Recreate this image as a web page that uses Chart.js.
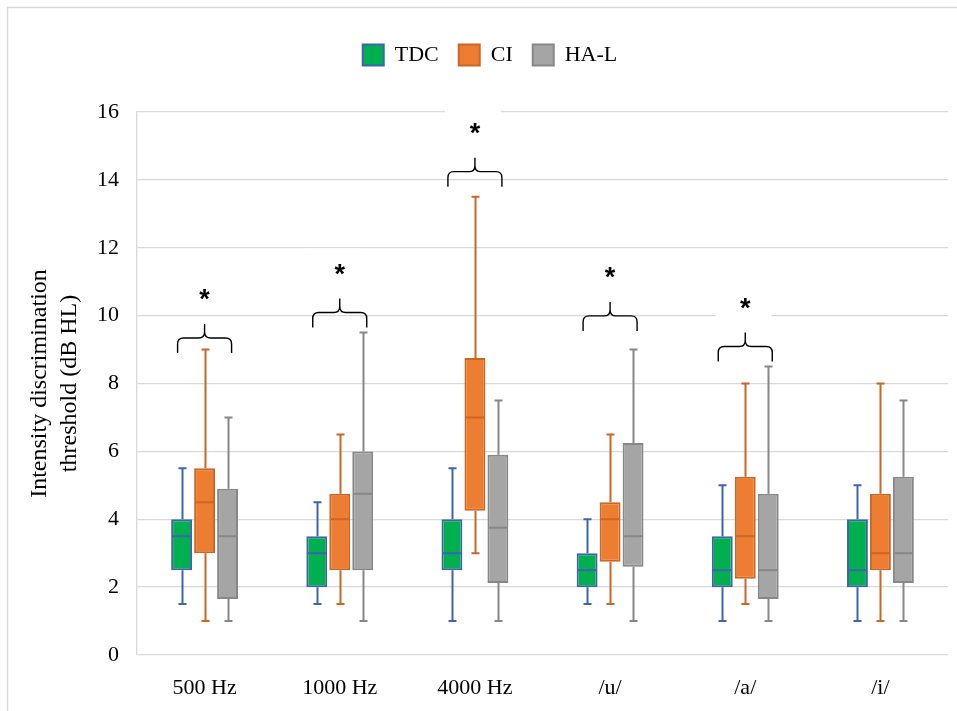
<!DOCTYPE html>
<html>
<head>
<meta charset="utf-8">
<title>Intensity discrimination threshold</title>
<script src="https://cdn.jsdelivr.net/npm/chart.js"></script>
<style>
  html, body { margin: 0; padding: 0; background: #fff; }
  #wrap { width: 957px; height: 711px; position: relative; }
</style>
</head>
<body>
<div id="wrap"><canvas id="chart"></canvas></div>
<script>
// Stimulus conditions on the x axis
const categories = ['500 Hz', '1000 Hz', '4000 Hz', '/u/', '/a/', '/i/'];

// Y axis range and tick step (dB HL)
const yMin = 0;
const yMax = 16;
const yStep = 2;

// TDC: min, lower quartile, median, upper quartile, max
const tdcMin = [1.5, 1.5, 1.0, 1.5, 1.0, 1.0];
const tdcQ1 = [2.5, 2.0, 2.5, 2.0, 2.0, 2.0];
const tdcMedian = [3.5, 3.0, 3.0, 2.5, 2.5, 2.5];
const tdcQ3 = [4.0, 3.5, 4.0, 3.0, 3.5, 4.0];
const tdcMax = [5.5, 4.5, 5.5, 4.0, 5.0, 5.0];

// CI
const ciMin = [1.0, 1.5, 3.0, 1.5, 1.5, 1.0];
const ciQ1 = [3.0, 2.5, 4.25, 2.75, 2.25, 2.5];
const ciMedian = [4.5, 4.0, 7.0, 4.0, 3.5, 3.0];
const ciQ3 = [5.5, 4.75, 8.75, 4.5, 5.25, 4.75];
const ciMax = [9.0, 6.5, 13.5, 6.5, 8.0, 8.0];

// HA-L
const halMin = [1.0, 1.0, 1.0, 1.0, 1.0, 1.0];
const halQ1 = [1.65, 2.5, 2.12, 2.6, 1.65, 2.12];
const halMedian = [3.5, 4.75, 3.75, 3.5, 2.5, 3.0];
const halQ3 = [4.9, 6.0, 5.9, 6.25, 4.75, 5.25];
const halMax = [7.0, 9.5, 7.5, 9.0, 8.5, 7.5];

// Significance braces: level of the brace feet (dB HL), null where there is none
const braceLevels = [8.9, 9.65, 13.8, 9.55, 8.65, null];

const groups = [
    { label: 'TDC', fill: '#00B050', line: '#3F63AE', min: tdcMin, q1: tdcQ1, median: tdcMedian, q3: tdcQ3, max: tdcMax },
    { label: 'CI', fill: '#ED7D31', line: '#CB6624', min: ciMin, q1: ciQ1, median: ciMedian, q3: ciQ3, max: ciMax },
    { label: 'HA-L', fill: '#A5A5A5', line: '#878787', min: halMin, q1: halQ1, median: halMedian, q3: halQ3, max: halMax }
];

const serif = '"Liberation Serif", "Times New Roman", serif';
Chart.defaults.font.family = serif;
Chart.defaults.color = '#000';

// Whiskers under the boxes, medians and braces on top
const boxPlotParts = {
    id: 'boxPlotParts',
    beforeInit(chart) {
        // leave room between the legend and the plot
        const fit = chart.legend.fit;
        chart.legend.fit = function() {
            fit.bind(chart.legend)();
            this.height += 36;
        };
    },
    afterLayout(chart) {
        chart.legend.left += 10;
        chart.legend.right += 10;
    },
    beforeDraw(chart) {
        const ctx = chart.ctx;
        ctx.save();
        ctx.fillStyle = '#fff';
        ctx.fillRect(0, 0, chart.width, chart.height);
        ctx.strokeStyle = '#D9D9D9';
        ctx.lineWidth = 1.5;
        ctx.strokeRect(7.5, 7.5, chart.width + 20, chart.height + 20);
        ctx.restore();
    },
    beforeDatasetsDraw(chart) {
        const ctx = chart.ctx;
        const y = chart.scales.y;
        ctx.save();
        ctx.lineWidth = 2;
        groups.forEach((g, d) => {
            const meta = chart.getDatasetMeta(d);
            ctx.strokeStyle = g.line;
            meta.data.forEach((bar, i) => {
                const x = Math.round(bar.x) + 0.5;
                const yMaxPx = y.getPixelForValue(g.max[i]);
                const yMinPx = y.getPixelForValue(g.min[i]);
                ctx.beginPath();
                ctx.moveTo(x, yMaxPx);
                ctx.lineTo(x, y.getPixelForValue(g.q3[i]));
                ctx.moveTo(x, y.getPixelForValue(g.q1[i]));
                ctx.lineTo(x, yMinPx);
                ctx.moveTo(x - 4, yMaxPx);
                ctx.lineTo(x + 4, yMaxPx);
                ctx.moveTo(x - 4, yMinPx);
                ctx.lineTo(x + 4, yMinPx);
                ctx.stroke();
            });
        });
        ctx.restore();
    },
    afterDatasetsDraw(chart) {
        const ctx = chart.ctx;
        const x = chart.scales.x;
        const y = chart.scales.y;
        ctx.save();

        // median lines
        ctx.lineWidth = 2;
        groups.forEach((g, d) => {
            const meta = chart.getDatasetMeta(d);
            ctx.strokeStyle = g.line;
            meta.data.forEach((bar, i) => {
                const ym = y.getPixelForValue(g.median[i]);
                ctx.beginPath();
                ctx.moveTo(bar.x - bar.width / 2 + 1, ym);
                ctx.lineTo(bar.x + bar.width / 2 - 1, ym);
                ctx.stroke();
            });
        });

        // curly braces with asterisks
        ctx.font = 'bold 27px "Liberation Sans", Arial, sans-serif';
        ctx.textAlign = 'center';
        ctx.textBaseline = 'alphabetic';
        const m = ctx.measureText('*');
        braceLevels.forEach((level, i) => {
            if (level === null) return;
            const cx = x.getPixelForValue(i);
            const base = y.getPixelForValue(level);
            const x1 = cx - 27;
            const x2 = cx + 27;
            const bar = base - 15;
            const tip = bar - 14;
            const r = 6;

            const starY = base - 58;
            ctx.fillStyle = '#fff';
            ctx.fillRect(cx - 30, starY - 21, 56, 40);

            ctx.strokeStyle = '#000';
            ctx.lineWidth = 1.4;
            ctx.beginPath();
            ctx.moveTo(x1, base);
            ctx.lineTo(x1, bar + r);
            ctx.quadraticCurveTo(x1, bar, x1 + r, bar);
            ctx.lineTo(cx - r, bar);
            ctx.quadraticCurveTo(cx, bar, cx, bar - r);
            ctx.lineTo(cx, tip);
            ctx.moveTo(x2, base);
            ctx.lineTo(x2, bar + r);
            ctx.quadraticCurveTo(x2, bar, x2 - r, bar);
            ctx.lineTo(cx + r, bar);
            ctx.quadraticCurveTo(cx, bar, cx, bar - r);
            ctx.stroke();

            ctx.fillStyle = '#000';
            ctx.fillText('*', cx, starY + (m.actualBoundingBoxAscent - m.actualBoundingBoxDescent) / 2);
        });
        ctx.restore();
    }
};

new Chart(document.getElementById('chart'), {
    type: 'bar',
    data: {
        labels: categories,
        datasets: groups.map(g => ({
            label: g.label,
            data: g.q1.map((v, i) => [v, g.q3[i]]),
            backgroundColor: g.fill,
            borderColor: g.line,
            borderWidth: 2,
            borderSkipped: false,
            categoryPercentage: 0.51,
            barPercentage: 0.91
        }))
    },
    options: {
        responsive: true,
        maintainAspectRatio: false,
        animation: false,
        layout: {
            padding: { top: 24, left: 12, right: 9, bottom: 10 }
        },
        plugins: {
            legend: {
                position: 'top',
                labels: {
                    boxWidth: 21,
                    boxHeight: 21,
                    padding: 20,
                    color: '#000',
                    font: { family: serif, size: 22 }
                }
            },
            tooltip: { enabled: false }
        },
        scales: {
            x: {
                grid: { display: false, drawTicks: false },
                border: { display: false },
                ticks: {
                    padding: 20,
                    color: '#000',
                    font: { family: serif, size: 22 }
                },
                afterFit(scale) {
                    scale.height = 46;
                }
            },
            y: {
                min: yMin,
                max: yMax,
                grid: { color: '#D9D9D9', lineWidth: 1.3, drawTicks: false },
                border: { display: true, color: '#D9D9D9', width: 1.3 },
                ticks: {
                    stepSize: yStep,
                    padding: 18,
                    color: '#000',
                    font: { family: serif, size: 22 }
                },
                title: {
                    display: true,
                    text: ['Intensity discrimination', 'threshold (dB HL)'],
                    color: '#000',
                    font: { family: serif, size: 24, lineHeight: 1.25 },
                    padding: { top: 13, bottom: 12 }
                },
                afterFit(scale) {
                    scale.width = 125;
                }
            }
        }
    },
    plugins: [boxPlotParts]
});
</script>
</body>
</html>
